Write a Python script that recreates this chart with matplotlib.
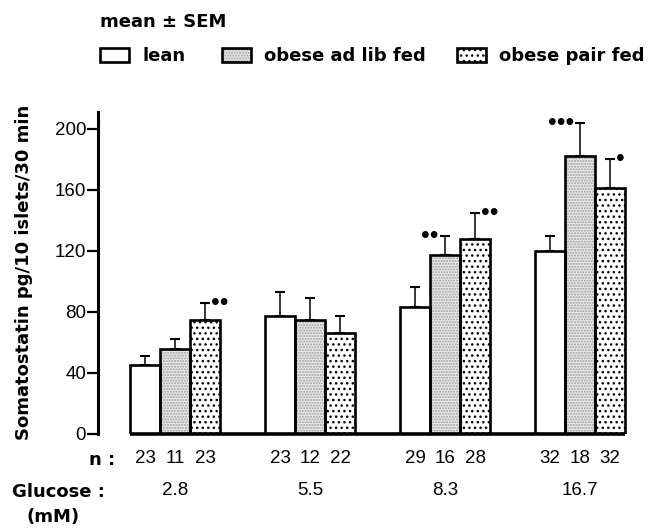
import matplotlib
matplotlib.use('Agg')
import matplotlib.pyplot as plt
import matplotlib.patches as mpatches
import numpy as np

# data
glucose = ['2.8', '5.5', '8.3', '16.7']
series = ['lean', 'obese ad lib fed', 'obese pair fed']
lean_mean = [45, 77, 83, 120]
lean_sem = [6, 16, 13, 10]
adlib_mean = [56, 75, 117, 182]
adlib_sem = [6, 14, 13, 22]
pair_mean = [75, 66, 128, 161]
pair_sem = [11, 11, 17, 19]
n_lean = [23, 23, 29, 32]
n_adlib = [11, 12, 16, 18]
n_pair = [23, 22, 28, 32]
sig_adlib = ['', '', '••', '•••']   # drawn left of the error bar
sig_pair = ['••', '', '••', '•']    # drawn right of the error bar
yticks = [0, 40, 80, 120, 160, 200]

W, H = 652, 528
BOLD = 'DejaVu Sans'
NUM = ['Liberation Sans', 'DejaVu Sans']

# (facecolor, hatch, hatchcolor) for each series
styles = [('white', None, 'black'),
          ('#e8e8e8', '......', '#a0a0a0'),
          ('white', '...', 'black')]

fig = plt.figure(figsize=(W / 100, H / 100), dpi=100)
ax = fig.add_axes([98 / W, 1 - 434 / H, (640 - 98) / W, (434 - 112) / H])

group_step = 4.5
x0 = np.arange(len(glucose)) * group_step
means = [lean_mean, adlib_mean, pair_mean]
sems = [lean_sem, adlib_sem, pair_sem]
ns = [n_lean, n_adlib, n_pair]

for s, (m, e) in enumerate(zip(means, sems)):
    xs = x0 + s
    fc, hatch, hc = styles[s]
    ax.errorbar(xs, m, yerr=[np.zeros(len(m)), e], fmt='none', ecolor='black',
                elinewidth=1.1, capsize=3.6, capthick=1.5, zorder=1)
    ax.bar(xs, m, width=1.0, color=fc, hatch=hatch, edgecolor=hc, linewidth=0, zorder=2)
    ax.bar(xs, m, width=1.0, fill=False, edgecolor='black', linewidth=1.9, zorder=3)
    for xi, v in zip(xs, ns[s]):
        ax.text(xi, -0.077, str(v), transform=ax.get_xaxis_transform(), ha='center', va='center',
                family=NUM, fontsize=13.5)

# significance dots
for xi, m, e, lab in zip(x0 + 1, adlib_mean, adlib_sem, sig_adlib):
    if lab:
        ax.annotate(lab, (xi, m + e), xytext=(-4.5, 0), textcoords='offset points',
                    ha='right', va='center', fontsize=18, family=NUM)
for xi, m, e, lab in zip(x0 + 2, pair_mean, pair_sem, sig_pair):
    if lab:
        ax.annotate(lab, (xi, m + e), xytext=(4.5, 0), textcoords='offset points',
                    ha='left', va='center', fontsize=18, family=NUM)

# baseline under the bars
ax.plot([x0[0] - 0.5, x0[-1] + 2.5], [0, 0], color='black', lw=2.6,
        solid_capstyle='butt', zorder=4, clip_on=False)

for xi, g in zip(x0 + 1, glucose):
    ax.text(xi, -0.176, g, transform=ax.get_xaxis_transform(), ha='center', va='center',
            family=NUM, fontsize=13.5)

ax.set_xlim(-1.567, 16.5)
ax.set_ylim(0, 211)
for side in ['top', 'right', 'bottom']:
    ax.spines[side].set_visible(False)
ax.spines['left'].set_linewidth(2.2)
ax.set_xticks([])
ax.set_yticks(yticks)
ax.tick_params(axis='y', length=8, width=1.6, pad=0.5, labelsize=13.5)
for t in ax.get_yticklabels():
    t.set_family(NUM)

fig.text(24 / W, 1 - 272 / H, 'Somatostatin pg/10 islets/30 min', rotation=90,
         ha='center', va='center', fontsize=13, fontweight='bold', family=BOLD)
fig.text(115 / W, 1 - 460 / H, 'n :', ha='right', va='center', fontsize=13,
         fontweight='bold', family=BOLD)
fig.text(12 / W, 1 - 492 / H, 'Glucose :', ha='left', va='center', fontsize=13,
         fontweight='bold', family=BOLD)
fig.text(26 / W, 1 - 517 / H, '(mM)', ha='left', va='center', fontsize=13,
         fontweight='bold', family=BOLD)
fig.text(100 / W, 1 - 22 / H, 'mean \u00b1 SEM', ha='left', va='center', fontsize=13,
         fontweight='bold', family=BOLD)

# legend row
box_left = [100, 222, 457]
for s, lab in enumerate(series):
    fc, hatch, hc = styles[s]
    bx = box_left[s]
    fig.patches.append(mpatches.Rectangle((bx / W, 1 - 62 / H), 29 / W, 14 / H,
                                          transform=fig.transFigure, facecolor=fc,
                                          hatch=hatch, edgecolor=hc, linewidth=0))
    fig.patches.append(mpatches.Rectangle((bx / W, 1 - 62 / H), 29 / W, 14 / H,
                                          transform=fig.transFigure, fill=False,
                                          edgecolor='black', linewidth=1.9))
    fig.text((bx + 42) / W, 1 - 56 / H, lab, ha='left', va='center', fontsize=13,
             fontweight='bold', family=BOLD)

fig.savefig('out.png', dpi=100)
